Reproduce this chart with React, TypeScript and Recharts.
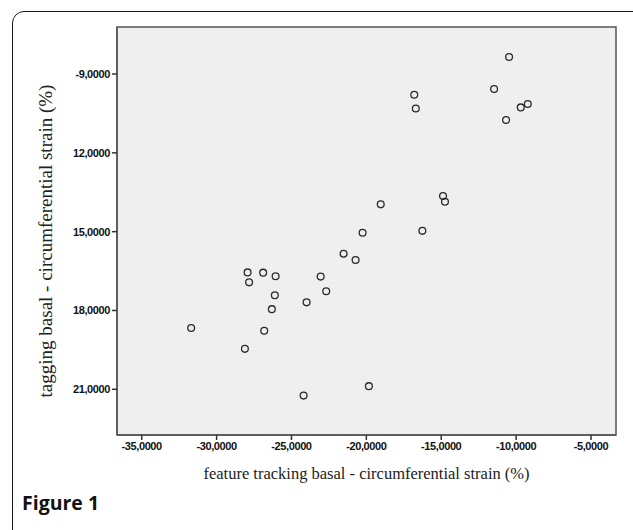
import React from "react"
import {
  ScatterChart,
  Scatter,
  XAxis,
  YAxis,
  CartesianGrid,
  ReferenceArea,
} from "recharts"

// feature tracking (x) vs tagging (y), basal circumferential strain (%)
const featureTracking = [
  -10.47, -11.47, -16.8, -16.7, -9.69, -9.22, -10.67, -14.88, -14.75, -19.04,
  -20.25, -16.26, -21.52, -20.72, -27.93, -26.89, -26.06, -27.83, -23.05, -22.68,
  -26.11, -23.99, -26.31, -31.7, -26.82, -28.11, -19.83, -24.19,
]
const tagging = [
  -8.35, -9.57, -9.79, -10.31, -10.27, -10.14, -10.75, -13.64, -13.86, -13.96,
  -15.04, -14.97, -15.84, -16.08, -16.55, -16.56, -16.7, -16.93, -16.71, -17.27,
  -17.42, -17.69, -17.95, -18.67, -18.77, -19.46, -20.88, -21.24,
]

const xTicks = [-35, -30, -25, -20, -15, -10, -5]
const yTicks = [-9, -12, -15, -18, -21]
const yTickLabels = ["-9,0000", "12,0000", "15,0000", "18,0000", "21,0000"]

const xDomain = [-36.65, -3.33]
const yDomain = [-22.74, -7.21]

const xLabel = "feature tracking basal - circumferential strain (%)"
const yLabel = "tagging  basal - circumferential strain (%)"

const points = featureTracking.map((x, i) => ({ x, y: tagging[i] }))

const fmtX = (v: number) => v.toFixed(4).replace(".", ",")
const fmtY = (v: number) => {
  const i = yTicks.indexOf(v)
  return i >= 0 ? yTickLabels[i] : String(v)
}

const tickStyle = {
  fontFamily: "'Liberation Sans', Arial, sans-serif",
  fontSize: 11,
  fontWeight: 700,
  fill: "#111",
  letterSpacing: -0.4,
}

const serif = "'Liberation Serif', 'Times New Roman', serif"

const Ring = (props: any) => {
  const { cx, cy } = props
  if (cx == null || cy == null) return null
  return <circle cx={cx} cy={cy} r={3.4} fill="none" stroke="#2a2a2a" strokeWidth={1.3} />
}

export default function App() {
  return (
    <div
      style={{
        position: "absolute",
        left: 0,
        top: 0,
        width: 633,
        height: 530,
        overflow: "hidden",
        background: "#fff",
      }}
    >
      <div
        style={{
          position: "absolute",
          left: 12,
          top: 11,
          width: 660,
          height: 560,
          border: "1.5px solid #1a1a1a",
          borderRadius: 12,
          boxSizing: "border-box",
        }}
      />
      <div style={{ position: "absolute", left: 0, top: 0 }}>
        <ScatterChart width={633} height={530} margin={{ top: 27, right: 17, left: 0, bottom: 35 }}>
          <CartesianGrid horizontal={false} vertical={false} fill="#efefef" />
          <ReferenceArea
            x1={xDomain[0]}
            x2={xDomain[1]}
            y1={yDomain[0]}
            y2={yDomain[1]}
            fill="none"
            fillOpacity={0}
            stroke="#555"
            strokeWidth={1.5}
            ifOverflow="visible"
          />
          <XAxis
            type="number"
            dataKey="x"
            domain={xDomain}
            ticks={xTicks}
            tickFormatter={fmtX}
            height={60}
            stroke="#555"
            strokeWidth={1.5}
            tickSize={5}
            tickMargin={2}
            tick={tickStyle}
            tickLine={{ stroke: "#333" }}
            label={{
              value: xLabel,
              position: "insideBottom",
              offset: 16,
              style: { fontFamily: serif, fontSize: 16.5, fill: "#222" },
            }}
          />
          <YAxis
            type="number"
            dataKey="y"
            domain={yDomain}
            ticks={yTicks}
            tickFormatter={fmtY}
            width={117}
            stroke="#555"
            strokeWidth={1.5}
            tickSize={5}
            tickMargin={2}
            tick={tickStyle}
            tickLine={{ stroke: "#333" }}
            label={{
              value: yLabel,
              angle: -90,
              position: "insideLeft",
              offset: 0,
              dx: 45,
              dy: 10,
              style: {
                fontFamily: serif,
                fontSize: 19,
                fill: "#222",
                textAnchor: "middle",
                whiteSpace: "pre",
              },
            }}
          />
          <Scatter data={points} shape={<Ring />} isAnimationActive={false} />
        </ScatterChart>
      </div>
      <div
        style={{
          position: "absolute",
          left: 22,
          top: 489,
          fontFamily: "'Open Sans', 'Noto Sans', sans-serif",
          fontWeight: 700,
          fontSize: 19.5,
          color: "#111",
        }}
      >
        Figure 1
      </div>
    </div>
  )
}
